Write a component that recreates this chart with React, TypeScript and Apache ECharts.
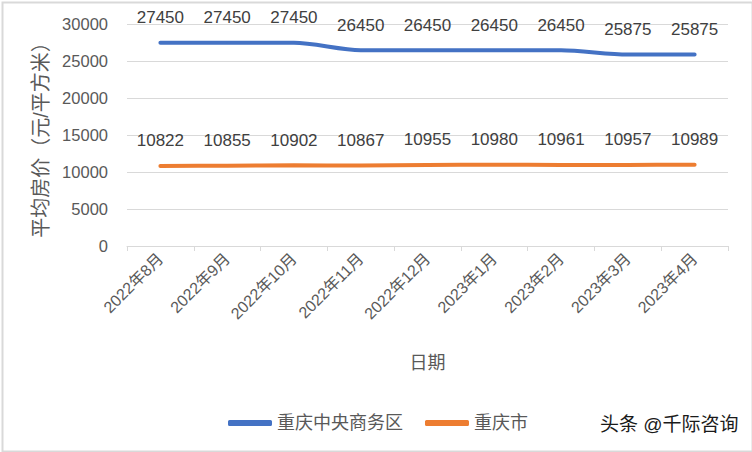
import React, { useEffect, useRef } from "react";
import * as echarts from "echarts";

const categories = ["2022年8月", "2022年9月", "2022年10月", "2022年11月", "2022年12月", "2023年1月", "2023年2月", "2023年3月", "2023年4月"];
const cbdValues = [27450, 27450, 27450, 26450, 26450, 26450, 26450, 25875, 25875];
const cityValues = [10822, 10855, 10902, 10867, 10955, 10980, 10961, 10957, 10989];
const seriesNames = ["重庆中央商务区", "重庆市"];

const FONT = "'Liberation Sans', 'Noto Sans CJK SC', sans-serif";

export default function App() {
  const ref = useRef<HTMLDivElement>(null);
  useEffect(() => {
    if (!ref.current) return;
    const chart = echarts.init(ref.current, undefined, { renderer: "svg" });
    const label = { show: true, position: "top", distance: 16, fontSize: 17, color: "#404040", fontFamily: FONT };
    chart.setOption({
      animation: false,
      backgroundColor: "#ffffff",
      textStyle: { fontFamily: FONT },
      grid: { left: 127, right: 24, top: 24, bottom: 206, containLabel: false },
      legend: {
        top: 409,
        left: 223,
        itemWidth: 44,
        itemHeight: 6,
        itemGap: 22,
        icon: "roundRect",
        textStyle: { fontSize: 18, color: "#595959", fontFamily: FONT },
        data: seriesNames,
      },
      xAxis: {
        type: "category",
        data: categories,
        boundaryGap: true,
        name: "日期",
        nameLocation: "middle",
        nameGap: 108,
        nameTextStyle: { fontSize: 18, color: "#595959", fontFamily: FONT },
        axisLine: { lineStyle: { color: "#d9d9d9", width: 1 } },
        axisTick: { show: true, length: 5, lineStyle: { color: "#d9d9d9" }, alignWithLabel: false },
        axisLabel: {
          rotate: 45,
          interval: 0,
          margin: 10,
          fontSize: 16,
          color: "#595959",
          fontFamily: FONT,
        },
      },
      yAxis: {
        type: "value",
        min: 0,
        max: 30000,
        interval: 5000,
        name: "平均房价（元/平方米）",
        nameLocation: "middle",
        nameGap: 74,
        nameRotate: 90,
        nameTextStyle: { fontSize: 20, color: "#595959", fontFamily: FONT },
        axisLine: { show: false },
        axisTick: { show: false },
        axisLabel: { fontSize: 16.5, color: "#595959", margin: 19, fontFamily: FONT, formatter: (v: number) => String(v) },
        splitLine: { lineStyle: { color: "#d9d9d9", width: 1 } },
      },
      series: [
        {
          name: seriesNames[0],
          type: "line",
          data: cbdValues,
          smooth: 0.3,
          symbol: "circle",
          symbolSize: 1,
          showSymbol: true,
          lineStyle: { color: "#4472C4", width: 4, cap: "round" },
          itemStyle: { color: "#4472C4" },
          label,
        },
        {
          name: seriesNames[1],
          type: "line",
          data: cityValues,
          smooth: 0.3,
          symbol: "circle",
          symbolSize: 1,
          showSymbol: true,
          lineStyle: { color: "#ED7D31", width: 4, cap: "round" },
          itemStyle: { color: "#ED7D31" },
          label,
        },
      ],
      graphic: [
        {
          type: "rect",
          left: 0,
          top: 0,
          shape: { x: 0.5, y: 0.5, width: 750, height: 449 },
          style: { fill: "none", stroke: "#d9d9d9", lineWidth: 2 },
          silent: true,
        },
        {
          type: "text",
          left: 600,
          top: 415,
          style: { text: "头条 @千际咨询", fontSize: 19, fill: "#1a1a1a", fontFamily: FONT },
        },
      ],
    });
    return () => chart.dispose();
  }, []);
  return <div ref={ref} style={{ position: "absolute", left: 0, top: 0, width: 752, height: 452 }} />;
}
